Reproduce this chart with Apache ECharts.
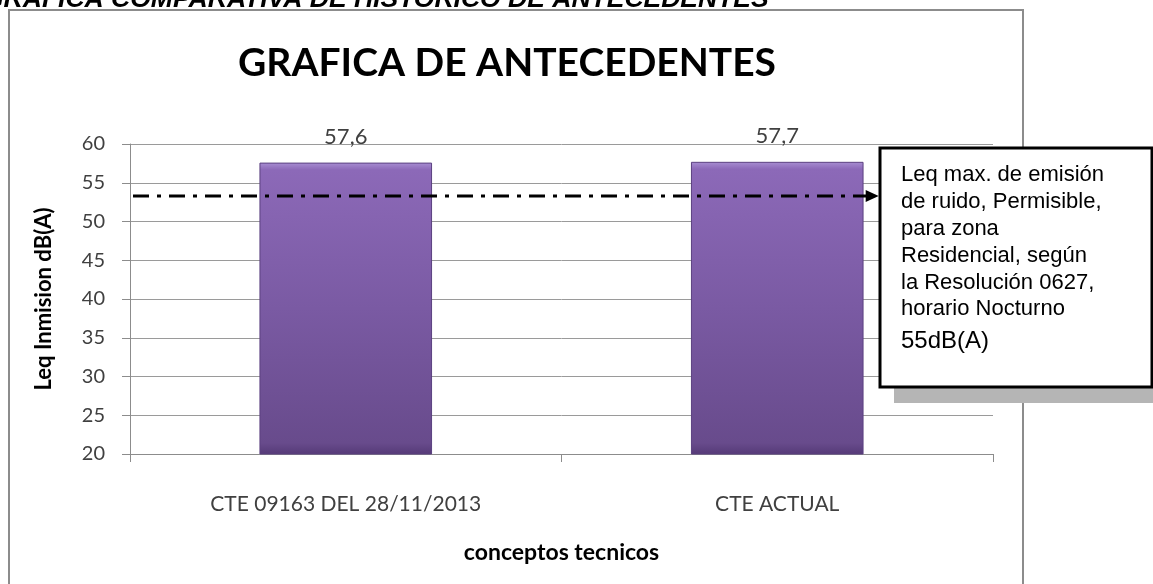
<!DOCTYPE html>
<html>
<head>
<meta charset="utf-8">
<script src="https://cdn.jsdelivr.net/npm/echarts@6/dist/echarts.min.js"></script>
<style>
html,body{margin:0;padding:0;background:#fff;}
#c{width:1153px;height:584px;}
</style>
</head>
<body>
<div id="c"></div>
<script>
// ---- data ----
const categories = ['CTE 09163 DEL 28/11/2013', 'CTE ACTUAL'];
const leqValues = [57.6, 57.7];
const yTicks = { min: 20, max: 60, interval: 5 };
const limitLineX = [0.0035, 0.86];   // fraction of plot width (annotation line extent)
const limitLineValue = 53.3;          // level at which the dash-dot annotation is drawn
const noteLines = [
  'Leq max. de emisión',
  'de ruido, Permisible,',
  'para zona',
  'Residencial, según',
  'la Resolución 0627,',
  'horario Nocturno'
];
const noteLastLine = '55dB(A)';
const titleText = 'GRAFICA DE ANTECEDENTES';
const topText = 'GRAFICA COMPARATIVA DE HISTORICO DE ANTECEDENTES';
const yAxisName = 'Leq Inmision dB(A)';
const xAxisName = 'conceptos tecnicos';

const chart = echarts.init(document.getElementById('c'), null, { renderer: 'canvas' });
const calib = 'Lato, "Open Sans", sans-serif';
const arial = '"Liberation Sans", Arial, sans-serif';
const axisGray = '#8c8c8c';

const option = {
  backgroundColor: '#ffffff',
  animation: false,
  title: {
    text: titleText,
    left: 502, top: 39, textAlign: 'center',
    textStyle: { fontFamily: calib, fontWeight: 'bold', fontSize: 39, color: '#000' }
  },
  grid: { left: 130, right: 160, top: 144, bottom: 130 },
  xAxis: [{
    type: 'category',
    data: categories,
    name: xAxisName,
    nameLocation: 'middle',
    nameGap: 87,
    nameTextStyle: { fontFamily: calib, fontWeight: 'bold', fontSize: 23, color: '#000' },
    axisLine: { lineStyle: { color: axisGray, width: 1 } },
    axisTick: { show: true, length: 8, lineStyle: { color: axisGray } },
    axisLabel: { margin: 40, fontFamily: calib, fontSize: 21, color: '#404040' }
  }, {
    type: 'value', min: 0, max: 1, show: false
  }],
  yAxis: {
    type: 'value',
    min: yTicks.min, max: yTicks.max, interval: yTicks.interval,
    name: yAxisName,
    nameLocation: 'middle',
    nameGap: 75,
    nameRotate: 90,
    nameTextStyle: { fontFamily: calib, fontWeight: 'bold', fontSize: 22, color: '#000' },
    axisLine: { show: true, lineStyle: { color: axisGray, width: 1 } },
    axisTick: { show: true, length: 8, lineStyle: { color: axisGray } },
    axisLabel: { margin: 25, fontFamily: calib, fontSize: 20, color: '#404040' },
    splitLine: { lineStyle: { color: '#9a9a9a', width: 1 } }
  },
  series: [{
    type: 'bar',
    data: leqValues,
    barWidth: '40%',
    itemStyle: {
      color: new echarts.graphic.LinearGradient(0, 0, 0, 1, [
        { offset: 0, color: '#a88ed2' },
        { offset: 0.025, color: '#8c69b8' },
        { offset: 0.5, color: '#7a5aa3' },
        { offset: 0.96, color: '#684b8c' },
        { offset: 1, color: '#553a77' }
      ]),
      borderColor: '#5b4080', borderWidth: 1
    },
    label: {
      show: true, position: 'top', distance: 15,
      fontFamily: calib, fontSize: 22, color: '#404040',
      formatter: p => String(p.value).replace('.', ',')
    },
    z: 2
  }, {
    type: 'line',
    xAxisIndex: 1,
    data: [
      { value: [limitLineX[0], limitLineValue] },
      { value: [limitLineX[1], limitLineValue], symbol: 'triangle', symbolSize: [12, 13], symbolRotate: -90 }
    ],
    symbol: 'none',
    showSymbol: true,
    itemStyle: { color: '#000' },
    lineStyle: { color: '#000', width: 3, type: [16, 8, 4, 8] },
    z: 5,
    silent: true
  }],
  graphic: [
    {
      type: 'rect', z: -10, silent: true,
      shape: { x: 9, y: 10, width: 1014, height: 620 },
      style: { fill: null, stroke: '#8c8c8c', lineWidth: 2 }
    },
    {
      type: 'text', z: 10, x: -17, y: -14,
      style: { text: topText, font: 'italic bold 26.5px ' + arial, fill: '#000' }
    },
    {
      type: 'rect', z: 20, silent: true,
      shape: { x: 894, y: 163, width: 272, height: 240 },
      style: { fill: '#b5b5b5' }
    },
    {
      type: 'rect', z: 21, silent: true,
      shape: { x: 880, y: 148, width: 272, height: 239 },
      style: { fill: '#fff', stroke: '#000', lineWidth: 3 }
    },
    {
      type: 'text', z: 22, silent: true,
      x: 901, y: 162,
      style: {
        text: noteLines.join('\n'),
        font: '22px ' + arial,
        lineHeight: 26.8,
        fill: '#000'
      }
    },
    {
      type: 'text', z: 22, silent: true,
      x: 901, y: 327,
      style: { text: noteLastLine, font: '24px ' + arial, lineHeight: 28, fill: '#000' }
    }
  ]
};
chart.setOption(option);
</script>
</body>
</html>
